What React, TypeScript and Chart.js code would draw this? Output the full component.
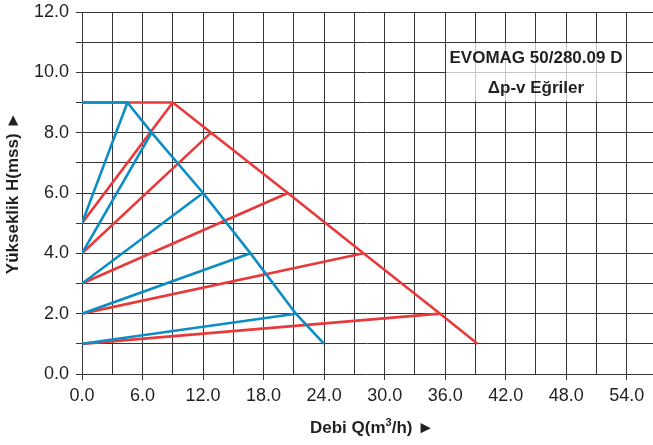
import React, { useEffect, useRef } from "react";
import { Chart, registerables } from "chart.js";

Chart.register(...registerables);

// Axis settings (values)
const xMin = 0;
const xMax = 56.6;
const xStep = 3;
const xLabelEvery = 6;
const yMin = 0;
const yMax = 12;
const yStep = 1;
const yLabelEvery = 2;

// Blue (Δp-v) envelope: max curve
const blueEnvQ = [0, 4.5, 6.9, 12, 16.7, 21.2, 24];
const blueEnvH = [9, 9, 8, 6, 4, 2, 1];
// Blue rising lines: start head at Q=0, end on envelope
const blueStartH = [5, 4, 3, 2, 1];
const blueEndQ = [4.5, 6.9, 12, 16.7, 21.2];
const blueEndH = [9, 8, 6, 4, 2];

// Red envelope
const redEnvQ = [0, 9, 12.8, 20.4, 27.9, 35.5, 39.2];
const redEnvH = [9, 9, 8, 6, 4, 2, 1];
// Red rising lines
const redStartH = [5, 4, 3, 2, 1];
const redEndQ = [9, 12.8, 20.4, 27.9, 35.5];
const redEndH = [9, 8, 6, 4, 2];

const titleLine1 = "EVOMAG 50/280.09 D";
const titleLine2 = "Δp-v Eğriler";
const xTitleParts = ["Debi Q(m", "3", "/h) ►"];
const yTitle = "Yükseklik H(mss) ►";
const boxQ = [36, 54];
const boxH = [9, 11];

const BLUE = "#0b8dc5";
const RED = "#e8393b";
const GRID = "#353535";
const TEXT = "#231f20";
const FONT = "'Liberation Sans', Arial, Helvetica, sans-serif";

export default function App() {
  const ref = useRef<HTMLCanvasElement | null>(null);

  useEffect(() => {
    if (!ref.current) return;

    const lineDs = (pts: { x: number; y: number }[], color: string) => ({
      data: pts,
      borderColor: color,
      backgroundColor: color,
      borderWidth: 2.6,
      showLine: true,
      pointRadius: 0,
      fill: false,
      tension: 0,
    });

    const datasets: any[] = [];
    // blue first => drawn on top
    datasets.push(lineDs(blueEnvQ.map((q, i) => ({ x: q, y: blueEnvH[i] })), BLUE));
    blueStartH.forEach((h, i) => {
      datasets.push(lineDs([{ x: 0, y: h }, { x: blueEndQ[i], y: blueEndH[i] }], BLUE));
    });
    datasets.push(lineDs(redEnvQ.map((q, i) => ({ x: q, y: redEnvH[i] })), RED));
    redStartH.forEach((h, i) => {
      datasets.push(lineDs([{ x: 0, y: h }, { x: redEndQ[i], y: redEndH[i] }], RED));
    });

    const decor = {
      id: "decor",
      beforeDatasetsDraw(chart: any) {
        const { ctx, scales } = chart;
        const x = scales.x, y = scales.y;
        const l = x.getPixelForValue(boxQ[0]);
        const r = x.getPixelForValue(boxQ[1]);
        const t = y.getPixelForValue(boxH[1]);
        const b = y.getPixelForValue(boxH[0]);
        ctx.save();
        ctx.fillStyle = "rgba(255,255,255,0.72)";
        ctx.fillRect(l + 1, t + 1, r - l - 2, b - t - 2);
        ctx.fillStyle = TEXT;
        ctx.textAlign = "center";
        ctx.textBaseline = "middle";
        ctx.font = `bold 17px ${FONT}`;
        const cx = (l + r) / 2;
        ctx.fillText(titleLine1, cx, y.getPixelForValue(10.5) + 1);
        ctx.fillText(titleLine2, cx, y.getPixelForValue(9.5) + 1);
        ctx.restore();
      },
      afterDraw(chart: any) {
        const { ctx, chartArea } = chart;
        ctx.save();
        ctx.fillStyle = TEXT;
        ctx.textBaseline = "alphabetic";
        ctx.textAlign = "left";
        // x title with superscript
        const big = `bold 17px ${FONT}`;
        const small = `bold 11px ${FONT}`;
        ctx.font = big;
        const w0 = ctx.measureText(xTitleParts[0]).width;
        const w2 = ctx.measureText(xTitleParts[2]).width;
        ctx.font = small;
        const w1 = ctx.measureText(xTitleParts[1]).width;
        const total = w0 + w1 + w2;
        let sx = 372 - total / 2;
        const by = 433;
        ctx.font = big;
        ctx.fillText(xTitleParts[0], sx, by);
        sx += w0;
        ctx.font = small;
        ctx.fillText(xTitleParts[1], sx, by - 7);
        sx += w1;
        ctx.font = big;
        ctx.fillText(xTitleParts[2], sx, by);
        // y title
        ctx.font = big;
        ctx.textAlign = "center";
        ctx.textBaseline = "middle";
        ctx.translate(13, (chartArea.top + chartArea.bottom) / 2);
        ctx.rotate(-Math.PI / 2);
        ctx.fillText(yTitle, 0, 0);
        ctx.restore();
      },
    };

    const chart = new Chart(ref.current, {
      type: "scatter",
      data: { datasets },
      plugins: [decor],
      options: {
        animation: false,
        responsive: false,
        maintainAspectRatio: false,
        layout: { padding: { top: 12, right: 0, left: 0, bottom: 0 } },
        plugins: { legend: { display: false }, tooltip: { enabled: false }, title: { display: false } },
        scales: {
          x: {
            type: "linear",
            min: xMin,
            max: xMax,
            border: { display: false },
            grid: {
              color: GRID,
              lineWidth: 1,
              drawTicks: true,
              tickLength: 6,
              tickColor: (c: any) => (c.tick && Math.abs(c.tick.value % xLabelEvery) < 1e-6 ? GRID : "rgba(0,0,0,0)"),
            },
            ticks: {
              stepSize: xStep,
              includeBounds: false,
              autoSkip: false,
              maxRotation: 0,
              padding: 5,
              color: TEXT,
              font: { family: FONT, size: 18 },
              callback: (v: any) => (Math.abs(Number(v) % xLabelEvery) < 1e-6 ? Number(v).toFixed(1) : ""),
            },
            afterFit: (s: any) => {
              s.height = 71;
              s.paddingLeft = 0;
              s.paddingRight = 0;
            },
          },
          y: {
            type: "linear",
            min: yMin,
            max: yMax,
            border: { display: false },
            grid: { color: GRID, lineWidth: 1, drawTicks: true, tickLength: 6, tickColor: GRID },
            ticks: {
              stepSize: yStep,
              autoSkip: false,
              padding: 7,
              color: TEXT,
              font: { family: FONT, size: 18 },
              callback: (v: any) => (Math.abs(Number(v) % yLabelEvery) < 1e-6 ? Number(v).toFixed(1) : ""),
            },
            afterFit: (s: any) => {
              s.width = 82;
              s.paddingTop = 0;
              s.paddingBottom = 0;
            },
          },
        },
      },
    } as any);

    return () => chart.destroy();
  }, []);

  return (
    <div style={{ position: "absolute", left: 0, top: 0, width: 653, height: 445, background: "#fff" }}>
      <canvas ref={ref} width={653} height={445} style={{ display: "block" }} />
    </div>
  );
}
